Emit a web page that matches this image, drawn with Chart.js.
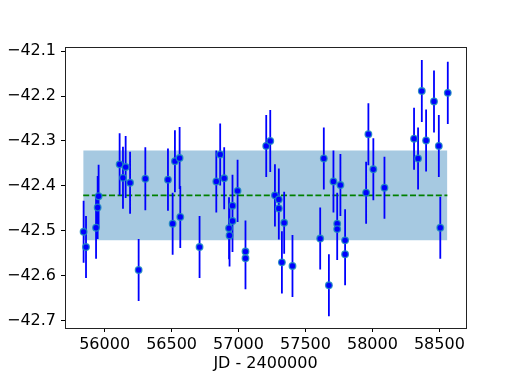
<!DOCTYPE html>
<html>
<head>
<meta charset="utf-8">
<script src="https://cdn.jsdelivr.net/npm/chart.js@4.4.0/dist/chart.umd.min.js"></script>
<style>
  html, body { margin: 0; padding: 0; background: #fff; }
  #wrap { width: 518px; height: 388px; }
</style>
</head>
<body>
<div id="wrap"><canvas id="jdChart" width="518" height="388"></canvas></div>
<script>
// measurements (JD - 2400000)
const jd = [55843, 55861, 55936, 55948, 55955, 56112, 56137, 56157, 56190, 56254,
            56304, 56473, 56508, 56525, 56560, 56565, 56709, 56834, 56863, 56893,
            56929, 56933, 56955, 56955, 56993, 57052, 57052, 57207, 57237, 57272,
            57301, 57301, 57324, 57341, 57403, 57610, 57637, 57675, 57709, 57737,
            57737, 57761, 57796, 57796, 57953, 57970, 58007, 58090, 58311, 58341,
            58369, 58401, 58460, 58496, 58507, 58563];
const mag = [-42.502, -42.536, -42.493, -42.448, -42.423, -42.352, -42.382, -42.358, -42.393, -42.587,
             -42.384, -42.386, -42.484, -42.345, -42.338, -42.469, -42.536, -42.390, -42.330, -42.383,
             -42.494, -42.510, -42.444, -42.478, -42.411, -42.546, -42.561, -42.311, -42.300, -42.421,
             -42.430, -42.450, -42.570, -42.482, -42.578, -42.517, -42.339, -42.621, -42.390, -42.484,
             -42.496, -42.398, -42.521, -42.552, -42.415, -42.285, -42.363, -42.404, -42.295, -42.339,
             -42.189, -42.299, -42.212, -42.311, -42.493, -42.193];
const magErr = [0.069, 0.069, 0.069, 0.070, 0.070, 0.069, 0.069, 0.069, 0.069, 0.069,
                0.070, 0.069, 0.069, 0.069, 0.069, 0.069, 0.069, 0.069, 0.069, 0.069,
                0.069, 0.069, 0.069, 0.069, 0.069, 0.069, 0.069, 0.069, 0.069, 0.069,
                0.069, 0.069, 0.069, 0.069, 0.069, 0.069, 0.069, 0.069, 0.069, 0.069,
                0.069, 0.069, 0.069, 0.069, 0.069, 0.069, 0.069, 0.069, 0.069, 0.069,
                0.069, 0.069, 0.069, 0.069, 0.069, 0.069];

const xTicks = [56000, 56500, 57000, 57500, 58000, 58500];
const yTicks = [-42.7, -42.6, -42.5, -42.4, -42.3, -42.2, -42.1];

const meanMag = -42.421;
const bandHalf = 0.1;
const bandStart = 55840;
const bandEnd = 58560;

const points = jd.map((x, i) => ({ x: x, y: mag[i] }));
const errSegments = [];
jd.forEach((x, i) => {
    errSegments.push({ x: x, y: mag[i] - magErr[i] });
    errSegments.push({ x: x, y: mag[i] + magErr[i] });
    errSegments.push({ x: x, y: null });
});

Chart.defaults.font.family = 'DejaVu Sans';
Chart.defaults.color = '#000';

const frameBox = {
    id: 'frameBox',
    afterDatasetsDraw(chart) {
        const { ctx, chartArea: a } = chart;
        ctx.save();
        ctx.strokeStyle = '#222';
        ctx.lineWidth = 1;
        ctx.strokeRect(Math.round(a.left) + 0.5, Math.round(a.top) + 0.5,
                       Math.round(a.right - a.left), Math.round(a.bottom - a.top));
        ctx.restore();
    }
};

new Chart(document.getElementById('jdChart').getContext('2d'), {
    type: 'line',
    data: {
        datasets: [
            {
                label: 'data',
                data: points,
                showLine: false,
                pointRadius: 3.3,
                pointBorderWidth: 1.3,
                pointBackgroundColor: '#0000ff',
                pointBorderColor: 'rgba(31,140,190,0.85)',
                order: 0,
            },
            {
                label: 'errors',
                data: errSegments,
                borderColor: '#0000ff',
                borderWidth: 1.8,
                pointRadius: 0,
                spanGaps: false,
                fill: false,
                order: 1,
            },
            {
                label: 'mean',
                data: [{ x: bandStart, y: meanMag }, { x: bandEnd, y: meanMag }],
                borderColor: '#008000',
                borderWidth: 1.6,
                borderDash: [6, 2.6],
                pointRadius: 0,
                fill: false,
                order: 2,
            },
            {
                label: 'bandTop',
                data: [{ x: bandStart, y: meanMag + bandHalf }, { x: bandEnd, y: meanMag + bandHalf }],
                borderWidth: 0,
                borderColor: 'rgba(0,0,0,0)',
                backgroundColor: '#a6c9e1',
                pointRadius: 0,
                fill: '+1',
                order: 3,
            },
            {
                label: 'bandBottom',
                data: [{ x: bandStart, y: meanMag - bandHalf }, { x: bandEnd, y: meanMag - bandHalf }],
                borderWidth: 0,
                borderColor: 'rgba(0,0,0,0)',
                pointRadius: 0,
                fill: false,
                order: 4,
            },
        ],
    },
    options: {
        responsive: false,
        devicePixelRatio: 1,
        animation: false,
        events: [],
        layout: { padding: { top: 47, right: 52, left: 0, bottom: 0 } },
        plugins: {
            legend: { display: false },
            tooltip: { enabled: false },
        },
        scales: {
            x: {
                type: 'linear',
                min: 55704,
                max: 58699,
                afterBuildTicks: (s) => { s.ticks = xTicks.map((v) => ({ value: v })); },
                afterFit: (s) => { s.height = 60; },
                border: { display: false },
                grid: { drawOnChartArea: false, drawTicks: true, tickLength: 4, tickColor: '#000', tickWidth: 1 },
                ticks: {
                    autoSkip: false,
                    maxRotation: 0,
                    padding: 3,
                    font: { size: 16 },
                    callback: (v) => String(v),
                },
                title: {
                    display: true,
                    text: 'JD - 2400000',
                    font: { size: 16 },
                    padding: { top: 0, bottom: 15 },
                },
            },
            y: {
                type: 'linear',
                min: -42.716,
                max: -42.091,
                afterBuildTicks: (s) => { s.ticks = yTicks.map((v) => ({ value: v })); },
                afterFit: (s) => { s.width = 65; },
                border: { display: false },
                grid: { drawOnChartArea: false, drawTicks: true, tickLength: 4, tickColor: '#000', tickWidth: 1 },
                ticks: {
                    autoSkip: false,
                    padding: 5,
                    font: { size: 16 },
                    callback: (v) => '\u2212' + Math.abs(v).toFixed(1),
                },
            },
        },
    },
    plugins: [frameBox],
});
</script>
</body>
</html>
